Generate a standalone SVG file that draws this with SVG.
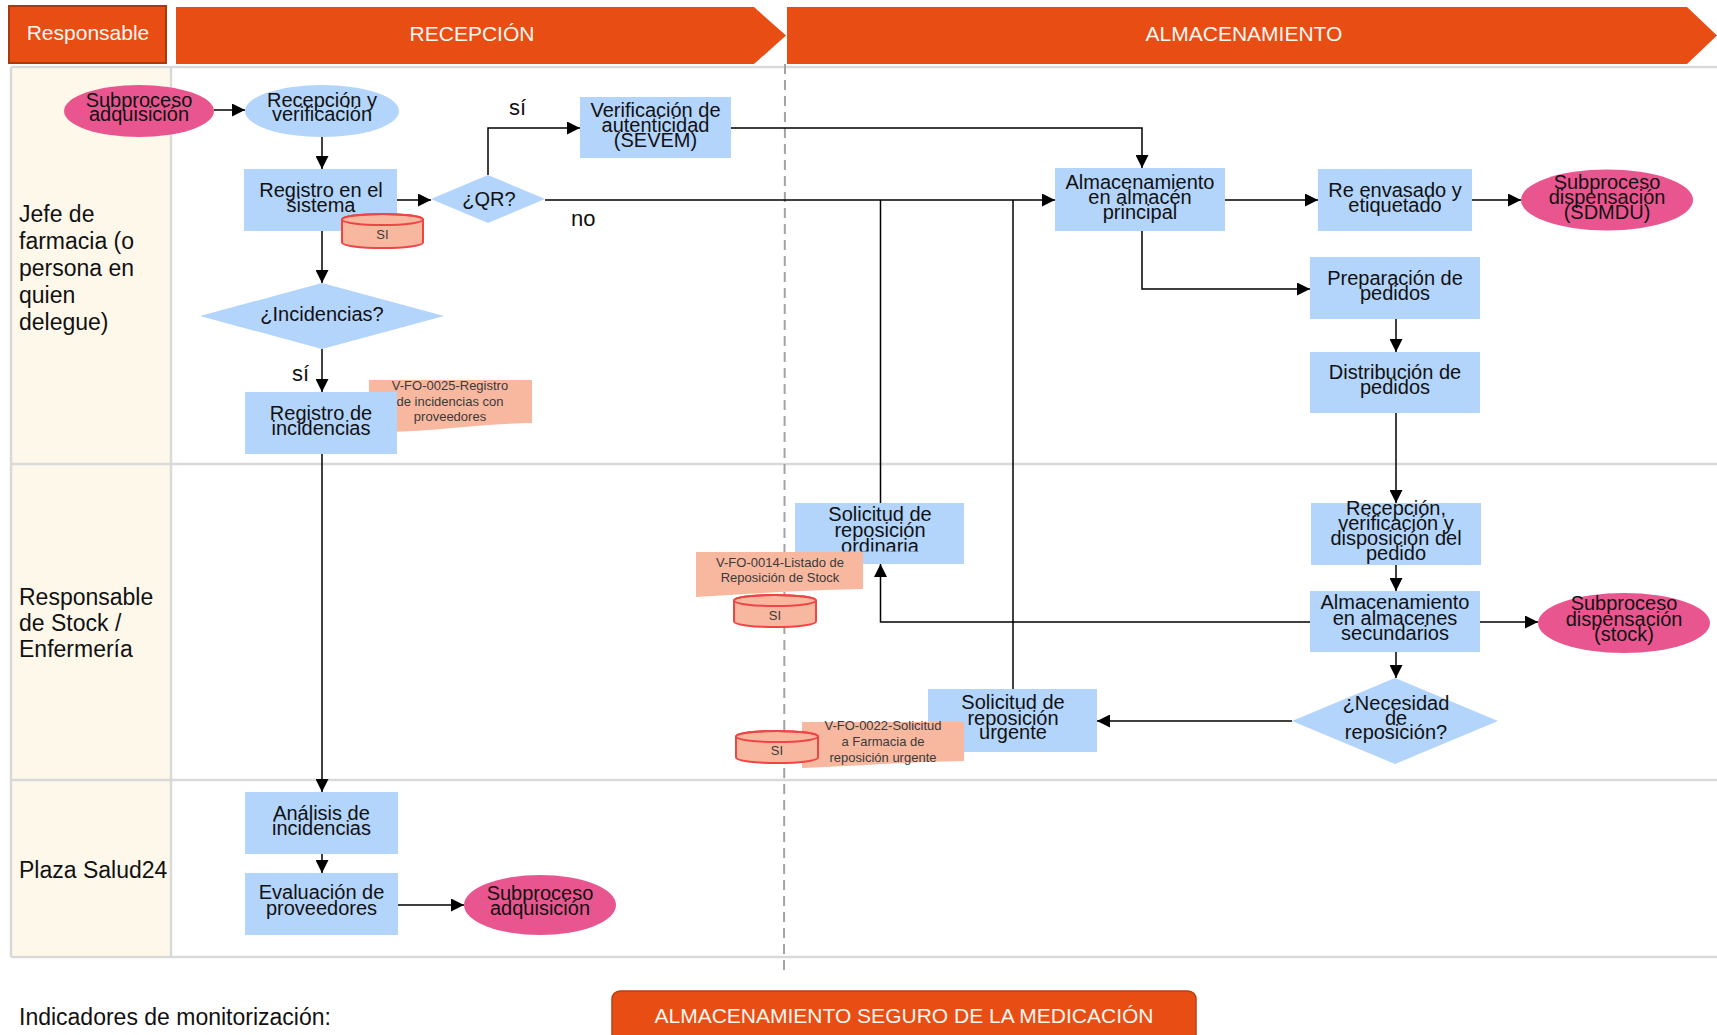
<svg xmlns="http://www.w3.org/2000/svg" width="1717" height="1035" viewBox="0 0 1717 1035">
  <defs>
    <marker id="arrow" markerUnits="userSpaceOnUse" markerWidth="13" markerHeight="13" viewBox="0 0 13 13" refX="13" refY="6.5" orient="auto">
      <path d="M0,0 L13,6.5 L0,13 z" fill="#000"/>
    </marker>
    <clipPath id="clipOrdinaria">
      <rect x="795" y="503" width="169" height="48.5"/>
    </clipPath>
    <style>
      text { font-family: "Liberation Sans", Arial, sans-serif; }
      .hdr { fill: #e84d14; }
      .hdr-text { fill: #fff6f0; font-size: 21px; text-anchor: middle; }
      .lane-line { stroke: #d9d9d9; stroke-width: 2.5; fill: none; }
      .lane-label { font-size: 23px; fill: #111; }
      .box { fill: #b3d4fb; }
      .sub { fill: #e9568f; }
      .note { fill: #f8b89f; }
      .cyl { fill: #f8b8a0; stroke: #ef4545; stroke-width: 2; }
      .t { font-size: 20px; fill: #111; text-anchor: middle; }
      .tn { font-size: 13px; fill: #3a3a3a; text-anchor: middle; }
      .lbl { font-size: 22px; fill: #111; }
      .conn { stroke: #000; stroke-width: 1.5; fill: none; }
    </style>
  </defs>

  <rect width="1717" height="1035" fill="#fff"/>

  <!-- Header band -->
  <g id="header">
    <rect x="9" y="6" width="157" height="57" fill="#e84d14" stroke="#a83a0c" stroke-width="2"/>
    <text class="hdr-text" x="88" y="40" font-size="19.5">Responsable</text>
    <polygon class="hdr" points="176,7 754,7 786,35.5 754,64 176,64"/>
    <text class="hdr-text" x="472" y="41">RECEPCIÓN</text>
    <polygon class="hdr" points="787,7 1687,7 1717,35.5 1687,64 787,64"/>
    <text class="hdr-text" x="1244" y="41" font-size="21.5">ALMACENAMIENTO</text>
  </g>

  <!-- Swimlanes -->
  <g id="lanes">
    <rect x="11" y="67" width="160" height="890" fill="#fef8eb"/>
    <line class="lane-line" x1="11" y1="67" x2="1717" y2="67"/>
    <line class="lane-line" x1="11" y1="464" x2="1717" y2="464"/>
    <line class="lane-line" x1="11" y1="780" x2="1717" y2="780"/>
    <line class="lane-line" x1="11" y1="957" x2="1717" y2="957"/>
    <line class="lane-line" x1="11" y1="67" x2="11" y2="957"/>
    <line class="lane-line" x1="171" y1="67" x2="171" y2="957"/>
    <text class="lane-label" x="19">
      <tspan x="19" y="222">Jefe de</tspan>
      <tspan x="19" y="249">farmacia (o</tspan>
      <tspan x="19" y="276">persona en</tspan>
      <tspan x="19" y="303">quien</tspan>
      <tspan x="19" y="330">delegue)</tspan>
    </text>
    <text class="lane-label">
      <tspan x="19" y="605">Responsable</tspan>
      <tspan x="19" y="631">de Stock /</tspan>
      <tspan x="19" y="657">Enfermería</tspan>
    </text>
    <text class="lane-label" x="19" y="878">Plaza Salud24</text>
  </g>

  <!-- Phase boundary -->
  <line id="phase-divider" x1="785" y1="64" x2="784" y2="976" stroke="#a3a3a3" stroke-width="2" stroke-dasharray="10 6"/>

  <!-- Connectors -->
  <g id="connectors">
    <path class="conn" d="M214,110 H245" marker-end="url(#arrow)"/>
    <path class="conn" d="M322,137 V169" marker-end="url(#arrow)"/>
    <path class="conn" d="M397,200 H431" marker-end="url(#arrow)"/>
    <path class="conn" d="M488,175 V128 H580" marker-end="url(#arrow)"/>
    <path class="conn" d="M731,128 H1142 V168" marker-end="url(#arrow)"/>
    <path class="conn" d="M545,200 H1055" marker-end="url(#arrow)"/>
    <path class="conn" d="M322,231 V283" marker-end="url(#arrow)"/>
    <path class="conn" d="M322,349 V392" marker-end="url(#arrow)"/>
    <path class="conn" d="M322,454 V792" marker-end="url(#arrow)"/>
    <path class="conn" d="M322,854 V873" marker-end="url(#arrow)"/>
    <path class="conn" d="M398,905 H464" marker-end="url(#arrow)"/>
    <path class="conn" d="M1225,200 H1318" marker-end="url(#arrow)"/>
    <path class="conn" d="M1472,200 H1521" marker-end="url(#arrow)"/>
    <path class="conn" d="M1142,231 V289 H1310" marker-end="url(#arrow)"/>
    <path class="conn" d="M1396,319 V352" marker-end="url(#arrow)"/>
    <path class="conn" d="M1396,413 V503" marker-end="url(#arrow)"/>
    <path class="conn" d="M1396,565 V591" marker-end="url(#arrow)"/>
    <path class="conn" d="M1480,622 H1538" marker-end="url(#arrow)"/>
    <path class="conn" d="M1396,652 V678" marker-end="url(#arrow)"/>
    <path class="conn" d="M1310,622 H880.5 V564" marker-end="url(#arrow)"/>
    <path class="conn" d="M880.5,503 V200"/>
    <path class="conn" d="M1292,721 H1097" marker-end="url(#arrow)"/>
    <path class="conn" d="M1013,689 V200"/>
    <text class="lbl" x="509" y="115">sí</text>
    <text class="lbl" x="571" y="226">no</text>
    <text class="lbl" x="292" y="381">sí</text>
  </g>

  <!-- Reception phase -->
  <g id="sub-adquisicion-1">
    <ellipse class="sub" cx="139" cy="111" rx="75" ry="26"/>
    <text class="t"><tspan x="139" y="106.5">Subproceso</tspan><tspan x="139" y="121">adquisición</tspan></text>
  </g>
  <g id="recepcion-verificacion">
    <ellipse class="box" cx="322" cy="111" rx="77" ry="26"/>
    <text class="t"><tspan x="322" y="106.5">Recepción y</tspan><tspan x="322" y="121">verificación</tspan></text>
  </g>
  <g id="registro-sistema">
    <rect class="box" x="244" y="169" width="153" height="62"/>
    <text class="t"><tspan x="321" y="197">Registro en el</tspan><tspan x="321" y="212">sistema</tspan></text>
  </g>
  <g id="si-registro">
    <path class="cyl" d="M342,219.5 A40.5,5.5 0 0 1 423,219.5 V242.5 A40.5,5.5 0 0 1 342,242.5 Z"/>
    <ellipse cx="382.5" cy="219.5" rx="40.5" ry="5.5" fill="none" stroke="#ef4545" stroke-width="2"/>
    <text class="tn" x="382.5" y="239">SI</text>
  </g>
  <g id="qr">
    <polygon class="box" points="431,199 488,175 545,199 488,223"/>
    <text class="t" x="489" y="206" font-size="19">¿QR?</text>
  </g>
  <g id="verificacion-sevem">
    <rect class="box" x="580" y="97" width="151" height="61"/>
    <text class="t"><tspan x="655.5" y="117">Verificación de</tspan><tspan x="655.5" y="132">autenticidad</tspan><tspan x="655.5" y="147">(SEVEM)</tspan></text>
  </g>
  <g id="incidencias">
    <polygon class="box" points="200,316 322,283 444,316 322,349"/>
    <text class="t" x="322" y="321">¿Incidencias?</text>
  </g>
  <g id="doc-v-fo-0025">
    <path class="note" d="M369,380 H532 V423 Q495,423.5 452,428 T369,432 Z"/>
    <text class="tn"><tspan x="450" y="390">V-FO-0025-Registro</tspan><tspan x="450" y="405.5">de incidencias con</tspan><tspan x="450" y="421">proveedores</tspan></text>
  </g>
  <g id="registro-incidencias">
    <rect class="box" x="245" y="392" width="152" height="62"/>
    <text class="t"><tspan x="321" y="420">Registro de</tspan><tspan x="321" y="435">incidencias</tspan></text>
  </g>
  <g id="analisis-incidencias">
    <rect class="box" x="245" y="792" width="153" height="62"/>
    <text class="t"><tspan x="321.5" y="820">Análisis de</tspan><tspan x="321.5" y="835">incidencias</tspan></text>
  </g>
  <g id="evaluacion-proveedores">
    <rect class="box" x="245" y="873" width="153" height="62"/>
    <text class="t"><tspan x="321.5" y="899">Evaluación de</tspan><tspan x="321.5" y="914.5">proveedores</tspan></text>
  </g>
  <g id="sub-adquisicion-2">
    <ellipse class="sub" cx="540" cy="905" rx="76" ry="30"/>
    <text class="t"><tspan x="540" y="900">Subproceso</tspan><tspan x="540" y="915">adquisición</tspan></text>
  </g>

  <!-- Storage phase -->
  <g id="almacen-principal">
    <rect class="box" x="1055" y="168" width="170" height="63"/>
    <text class="t"><tspan x="1140" y="189">Almacenamiento</tspan><tspan x="1140" y="204">en almacén</tspan><tspan x="1140" y="219">principal</tspan></text>
  </g>
  <g id="reenvasado">
    <rect class="box" x="1318" y="169" width="154" height="62"/>
    <text class="t"><tspan x="1395" y="197">Re envasado y</tspan><tspan x="1395" y="212">etiquetado</tspan></text>
  </g>
  <g id="sub-dispensacion-sdmdu">
    <ellipse class="sub" cx="1607" cy="200" rx="86" ry="30.5"/>
    <text class="t"><tspan x="1607" y="188.5">Subproceso</tspan><tspan x="1607" y="203.5">dispensación</tspan><tspan x="1607" y="218.5">(SDMDU)</tspan></text>
  </g>
  <g id="preparacion-pedidos">
    <rect class="box" x="1310" y="257" width="170" height="62"/>
    <text class="t"><tspan x="1395" y="285">Preparación de</tspan><tspan x="1395" y="300">pedidos</tspan></text>
  </g>
  <g id="distribucion-pedidos">
    <rect class="box" x="1310" y="352" width="170" height="61"/>
    <text class="t"><tspan x="1395" y="379">Distribución de</tspan><tspan x="1395" y="394">pedidos</tspan></text>
  </g>
  <g id="recepcion-pedido">
    <rect class="box" x="1311" y="503" width="170" height="62"/>
    <text class="t"><tspan x="1396" y="515">Recepción,</tspan><tspan x="1396" y="530">verificación y</tspan><tspan x="1396" y="545">disposición del</tspan><tspan x="1396" y="560">pedido</tspan></text>
  </g>
  <g id="almacenes-secundarios">
    <rect class="box" x="1310" y="591" width="170" height="61"/>
    <text class="t"><tspan x="1395" y="609">Almacenamiento</tspan><tspan x="1395" y="624.5">en almacenes</tspan><tspan x="1395" y="640">secundarios</tspan></text>
  </g>
  <g id="sub-dispensacion-stock">
    <ellipse class="sub" cx="1624" cy="623" rx="86" ry="30"/>
    <text class="t"><tspan x="1624" y="610">Subproceso</tspan><tspan x="1624" y="625.5">dispensación</tspan><tspan x="1624" y="640.5">(stock)</tspan></text>
  </g>
  <g id="necesidad-reposicion">
    <polygon class="box" points="1292,721 1395,678 1498,721 1395,764"/>
    <text class="t"><tspan x="1396" y="710">¿Necesidad</tspan><tspan x="1396" y="725">de</tspan><tspan x="1396" y="739">reposición?</tspan></text>
  </g>
  <g id="solicitud-ordinaria">
    <rect class="box" x="795" y="503" width="169" height="61"/>
    <text class="t" clip-path="url(#clipOrdinaria)"><tspan x="880" y="521">Solicitud de</tspan><tspan x="880" y="536.5">reposición</tspan><tspan x="880" y="553">ordinaria</tspan></text>
  </g>
  <g id="doc-v-fo-0014">
    <path class="note" d="M696,552 H863 V589 Q825,589.5 780,592 T696,597 Z"/>
    <text class="tn"><tspan x="780" y="567">V-FO-0014-Listado de</tspan><tspan x="780" y="582">Reposición de Stock</tspan></text>
  </g>
  <g id="si-listado">
    <path class="cyl" d="M734,600.5 A41,5.5 0 0 1 816,600.5 V621.5 A41,5.5 0 0 1 734,621.5 Z"/>
    <ellipse cx="775" cy="600.5" rx="41" ry="5.5" fill="none" stroke="#ef4545" stroke-width="2"/>
    <text class="tn" x="775" y="620">SI</text>
  </g>
  <g id="solicitud-urgente">
    <rect class="box" x="928" y="689" width="169" height="63"/>
    <text class="t"><tspan x="1013" y="709">Solicitud de</tspan><tspan x="1013" y="724.5">reposición</tspan><tspan x="1013" y="739">urgente</tspan></text>
  </g>
  <g id="doc-v-fo-0022">
    <path class="note" d="M802,722 H964 V761 Q925,761.5 882,764 T802,768 Z"/>
    <text class="tn"><tspan x="883" y="730">V-FO-0022-Solicitud</tspan><tspan x="883" y="746">a Farmacia de</tspan><tspan x="883" y="761.5">reposición urgente</tspan></text>
  </g>
  <g id="si-urgente">
    <path class="cyl" d="M736,736.5 A41,5.5 0 0 1 818,736.5 V757.5 A41,5.5 0 0 1 736,757.5 Z"/>
    <ellipse cx="777" cy="736.5" rx="41" ry="5.5" fill="none" stroke="#ef4545" stroke-width="2"/>
    <text class="tn" x="777" y="755">SI</text>
  </g>

  <!-- Footer -->
  <g id="footer">
    <text class="lane-label" x="19" y="1025" font-size="23.5">Indicadores de monitorización:</text>
    <rect x="612" y="991" width="584" height="60" rx="8" fill="#e84d14" stroke="#b8400f" stroke-width="1.5"/>
    <text class="hdr-text" x="904" y="1023" font-size="22">ALMACENAMIENTO SEGURO DE LA MEDICACIÓN</text>
  </g>
</svg>
